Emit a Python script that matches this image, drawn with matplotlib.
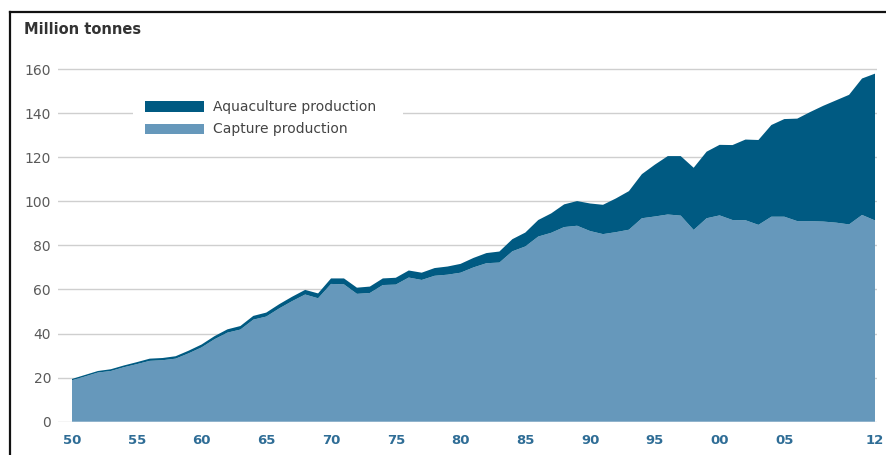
import matplotlib
matplotlib.use("Agg")
import matplotlib.pyplot as plt
from matplotlib.lines import Line2D
from matplotlib.patches import Rectangle

years = list(range(1950, 2013))
capture = [18.8, 20.5, 22.3, 23.0, 24.7, 26.1, 27.6, 27.9, 28.6, 31.0,
           33.7, 37.4, 40.4, 41.8, 46.3, 47.7, 51.4, 54.7, 57.7, 56.0,
           62.5, 62.3, 58.0, 58.4, 62.0, 62.2, 65.4, 64.3, 66.2, 66.7,
           67.6, 70.0, 71.9, 72.2, 77.3, 79.5, 84.0, 85.7, 88.3, 88.9,
           86.5, 85.1, 86.0, 87.1, 92.3, 93.1, 94.0, 93.5, 87.0, 92.3,
           93.6, 91.5, 91.4, 89.3, 93.0, 93.0, 91.0, 91.0, 90.8, 90.3,
           89.5, 93.8, 91.3]
aquaculture = [0.6, 0.7, 0.7, 0.8, 0.8, 0.9, 1.0, 1.0, 1.1, 1.2,
               1.3, 1.4, 1.5, 1.6, 1.7, 1.8, 1.9, 2.0, 2.1, 2.2,
               2.5, 2.7, 2.8, 2.9, 3.0, 3.1, 3.2, 3.3, 3.5, 3.7,
               4.0, 4.3, 4.6, 5.0, 5.5, 6.3, 7.5, 8.8, 10.3, 11.2,
               12.5, 13.3, 15.3, 17.5, 20.0, 23.5, 26.5, 27.0, 28.2, 30.2,
               32.0, 34.0, 36.6, 38.5, 41.6, 44.3, 46.5, 49.5, 52.5, 55.5,
               58.8, 61.9, 66.6]
series_labels = ["Aquaculture production", "Capture production"]
xtick_years = [1950, 1955, 1960, 1965, 1970, 1975, 1980, 1985, 1990, 1995, 2000, 2005, 2012]
xtick_labels = ["50", "55", "60", "65", "70", "75", "80", "85", "90", "95", "00", "05", "12"]
yticks = [0, 20, 40, 60, 80, 100, 120, 140, 160]

DARK = "#005a82"
LIGHT = "#6698bb"
W, H = 887, 455


def fx(px):
    return px / W


def fy(py):
    return (H - py) / H


fig = plt.figure(figsize=(W / 100, H / 100), dpi=100)
fig.patch.set_facecolor("white")

ax = fig.add_axes([fx(58), fy(421.7), (877 - 58) / W, (421.7 - 58) / H])
ppy = (875 - 72) / 62.0
ax.set_xlim(1950 - 14 / ppy, 2012 + 2 / ppy)
ax.set_ylim(0, 165)

for s in ax.spines.values():
    s.set_visible(False)

ax.set_yticks(yticks)
ax.yaxis.grid(True, color="#cfcfcf", linewidth=1.0)
ax.set_axisbelow(True)
ax.tick_params(axis="y", length=0, pad=5, labelsize=10, labelcolor="#5a5a5a")
ax.set_xticks(xtick_years)
ax.set_xticklabels(xtick_labels)
ax.tick_params(axis="x", length=0, pad=9, labelsize=9.5, labelcolor="#2f6d96")
for t in ax.get_xticklabels():
    t.set_fontweight("semibold")

ax.stackplot(years, capture, aquaculture, colors=[LIGHT, DARK], linewidth=0, zorder=2)

# legend (white box interrupting the grid line)
fig.add_artist(Rectangle((fx(133), fy(142)), (403 - 133) / W, 50 / H,
                         transform=fig.transFigure, facecolor="white", edgecolor="none", zorder=3))
for lab, col, cy in zip(series_labels, [DARK, LIGHT], [106.5, 129.0]):
    fig.add_artist(Rectangle((fx(145), fy(cy + 5)), 59 / W, 10 / H,
                             transform=fig.transFigure, facecolor=col, edgecolor="none", zorder=4))
    fig.text(fx(213), fy(cy + 0.5), lab, fontsize=10, color="#444444",
             ha="left", va="center", zorder=5)

fig.text(fx(24), fy(30), "Million tonnes", fontsize=10.5, fontweight="bold",
         color="#333333", ha="left", va="center")

# outer frame (left and top edges)
fig.add_artist(Line2D([fx(10), fx(10)], [0, fy(12)], transform=fig.transFigure,
                      color="#111111", linewidth=1.6))
fig.add_artist(Line2D([fx(10), 1.0], [fy(12), fy(12)], transform=fig.transFigure,
                      color="#111111", linewidth=1.6))

fig.savefig("out.png", dpi=100)
